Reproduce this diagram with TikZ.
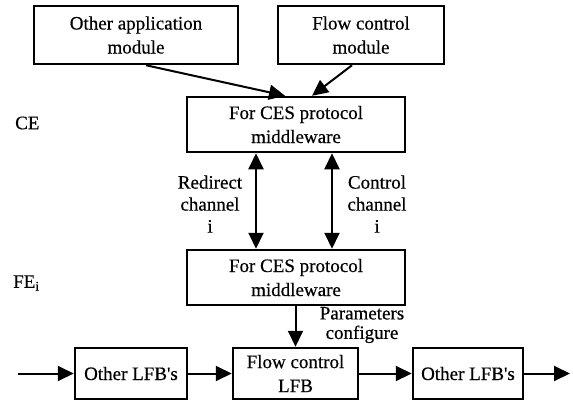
\documentclass[tikz,border=0pt]{standalone}
\usepackage{fontspec}
\setmainfont[FakeBold=0.5]{Liberation Serif}
\usetikzlibrary{arrows.meta}
\newcommand\diagfont{\fontsize{19}{24}\selectfont}
\newcommand\labfont{\fontsize{19}{22}\selectfont}
\begin{document}
\begin{tikzpicture}[x=1pt,y=-1pt,
  box/.style={draw, line width=2.5pt, inner sep=0pt, align=center, font=\diagfont},
  lbl/.style={inner sep=0pt, align=center, font=\labfont},
  tip/.tip={Triangle[length=16pt,width=15pt]},
  link/.style={line width=2pt, -tip},
  both/.style={line width=2pt, tip-tip}]
\useasboundingbox (0,0) rectangle (573,400);

% control element modules
\node[box, minimum width=204pt, minimum height=58pt] (app) at (136,35) {Other application\\module};
\node[box, minimum width=166pt, minimum height=58pt] (fcm) at (361,35) {Flow control\\module};
\node[box, minimum width=218pt, minimum height=55pt] (ce) at (296,124.5) {For CES protocol\\middleware};

% forwarding element
\node[box, minimum width=218pt, minimum height=55pt] (fe) at (296,277.5) {For CES protocol\\middleware};

% LFB chain
\node[box, minimum width=112pt, minimum height=51pt] (lfbA) at (131,373.5) {Other LFB\textquotesingle s};
\node[box, minimum width=125pt, minimum height=51pt] (lfb) at (295.5,373.5) {Flow control\\LFB};
\node[box, minimum width=110pt, minimum height=51pt] (lfbB) at (468,373.5) {Other LFB\textquotesingle s};

% side labels
\node[lbl, anchor=west] (celbl) at (15,123) {CE};
\node[lbl, anchor=west] (felbl) at (13,283) {FE\textsubscript{i}};
\node[lbl] (redir) at (210,204) {Redirect\\channel\\i};
\node[lbl] (ctrl) at (377,204) {Control\\channel\\i};
\node[lbl, font=\fontsize{19}{19.5}\selectfont] (param) at (362,325) {Parameters\\configure};

% helper points
\coordinate (outL) at (146,0);
\coordinate (outR) at (352,0);
\coordinate (inL) at (285,0);
\coordinate (inR) at (312,0);
\coordinate (chA) at (256,0);
\coordinate (chB) at (332,0);
\coordinate (src) at (18,373.5);
\coordinate (snk) at (570,373.5);

% connectors
\draw[link] (app.south -| outL) -- (ce.north -| inL);
\draw[link] (fcm.south -| outR) -- (ce.north -| inR);
\draw[both] (ce.south -| chA) -- (fe.north -| chA);
\draw[both] (ce.south -| chB) -- (fe.north -| chB);
\draw[link] (fe.south -| lfb.north) -- (lfb.north);
\draw[link] (src) -- (lfbA.west);
\draw[link] (lfbA.east) -- (lfb.west);
\draw[link] (lfb.east) -- (lfbB.west);
\draw[link] (lfbB.east) -- (snk);
\end{tikzpicture}
\end{document}
